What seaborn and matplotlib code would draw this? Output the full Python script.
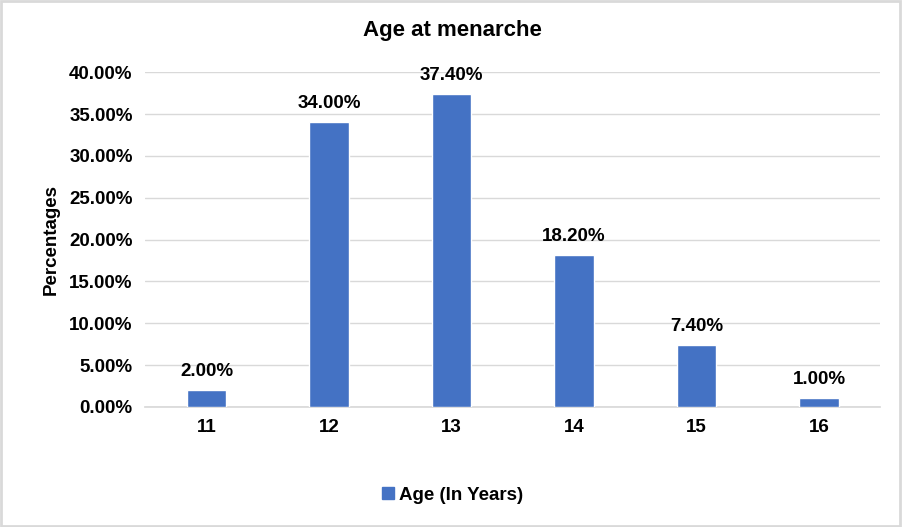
import numpy as np
import pandas as pd
import seaborn as sns
import matplotlib.pyplot as plt
from matplotlib.patches import Rectangle
from matplotlib.lines import Line2D

# Datos del gráfico
ages = ["11", "12", "13", "14", "15", "16"]
percentages = [2.00, 34.00, 37.40, 18.20, 7.40, 1.00]
y_ticks = [0, 5, 10, 15, 20, 25, 30, 35, 40]

df = pd.DataFrame({"age": ages, "pct": percentages})

sns.set_theme(style="white")
plt.rcParams['font.family'] = ['Liberation Sans', 'DejaVu Sans']
plt.rcParams['font.weight'] = 'bold'
plt.rcParams['text.color'] = 'black'
plt.rcParams['xtick.color'] = 'black'
plt.rcParams['ytick.color'] = 'black'
plt.rcParams['axes.labelcolor'] = 'black'

fig = plt.figure(figsize=(9.02, 5.27), dpi=100)
ax = fig.add_axes([0.161, 0.228, 0.815, 0.635])

sns.barplot(data=df, x="age", y="pct", color="#4472C4", saturation=1,
            width=0.32, ax=ax, zorder=3)

ax.set_ylim(0, 40)
ax.set_xlim(-0.5, 5.5)
ax.set_yticks(y_ticks)
ax.set_yticklabels([f"{t:.2f}%" for t in y_ticks], fontsize=13.5, fontweight='bold')
ax.set_xticks(range(len(ages)))
ax.set_xticklabels(ages, fontsize=13.5, fontweight='bold')
ax.tick_params(axis='both', length=0, pad=9, colors='black')
ax.grid(axis='y', color='#D9D9D9', linewidth=1, zorder=0)
for s in ['top', 'right', 'left']:
    ax.spines[s].set_visible(False)
ax.spines['bottom'].set_color('#D9D9D9')
ax.set_xlabel("")
ax.set_ylabel("Percentages", fontsize=13.5, fontweight='bold', labelpad=7, color='black')

# Etiquetas de datos
for i, v in enumerate(percentages):
    ax.text(i, v + 1.2, f"{v:.2f}%", ha='center', va='bottom',
            fontsize=13.5, fontweight='bold', color='black')

fig.suptitle("Age at menarche", x=0.502, y=0.962, fontsize=16, fontweight='bold', color='black')

handle = Line2D([], [], marker='s', linestyle='', color='#4472C4', markersize=8)
fig.legend([handle], ["Age (In Years)"], loc='center', bbox_to_anchor=(0.5, 0.06),
           frameon=False, fontsize=13.5, handletextpad=0.1, handlelength=1)

fig.add_artist(Rectangle((0.001, 0.002), 0.997, 0.996, transform=fig.transFigure,
                         fill=False, edgecolor='#D9D9D9', linewidth=2))

plt.savefig("out.png", dpi=100)
